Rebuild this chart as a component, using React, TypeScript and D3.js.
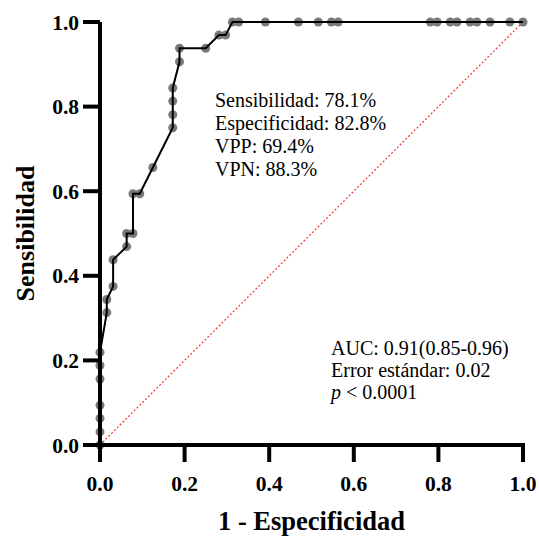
import * as d3 from 'd3';
import React from 'react';

// ROC curve points (1 - especificidad, sensibilidad)
const fpr = [
  0, 0, 0, 0, 0, 0, 0, 0.016, 0.016, 0.031, 0.031, 0.063, 0.063, 0.078, 0.078,
  0.094, 0.125, 0.172, 0.172, 0.172, 0.172, 0.188, 0.188, 0.25, 0.281, 0.297,
  0.313, 0.328, 0.391, 0.469, 0.516, 0.547, 0.563, 0.781, 0.797, 0.828, 0.844,
  0.875, 0.891, 0.922, 0.969, 1.0,
];
const tpr = [
  0, 0.031, 0.063, 0.094, 0.156, 0.188, 0.219, 0.313, 0.344, 0.375, 0.438,
  0.469, 0.5, 0.5, 0.594, 0.594, 0.656, 0.75, 0.781, 0.813, 0.844, 0.906,
  0.938, 0.938, 0.969, 0.969, 1, 1, 1, 1, 1, 1, 1, 1, 1, 1, 1, 1, 1, 1, 1, 1,
];
const ticks = [0, 0.2, 0.4, 0.6, 0.8, 1.0];
const statsTop = ['Sensibilidad: 78.1%', 'Especificidad: 82.8%', 'VPP: 69.4%', 'VPN: 88.3%'];
const statsBottom = ['AUC: 0.91(0.85-0.96)', 'Error estándar: 0.02'];

const W = 539;
const H = 537;
const margin = { top: 22, right: 16, bottom: 92, left: 100 };
const font = "'Times New Roman', 'Liberation Serif', serif";

export default function App() {
  const x = d3.scaleLinear().domain([0, 1]).range([margin.left, W - margin.right]);
  const y = d3.scaleLinear().domain([0, 1]).range([H - margin.bottom, margin.top]);
  const pts = fpr.map((v, i) => [v, tpr[i]] as [number, number]);
  const line = d3
    .line<[number, number]>()
    .x(d => x(d[0]))
    .y(d => y(d[1]));

  const tickLen = 17;
  const x0 = x(0);
  const y0 = y(0);

  return (
    <svg width={W} height={H} style={{ position: 'absolute', left: 0, top: 0 }} fontFamily={font}>
      <rect width={W} height={H} fill="#fff" />
      {/* reference diagonal */}
      <line x1={x(0)} y1={y(0)} x2={x(1)} y2={y(1)} stroke="#ff3030" strokeWidth={1.2} strokeDasharray="2,2" />
      {/* points */}
      {pts.map((d, i) => (
        <circle key={i} cx={x(d[0])} cy={y(d[1])} r={4.5} fill="#7a7a7a" />
      ))}
      <path d={line(pts) || ''} fill="none" stroke="#000" strokeWidth={2} />

      {/* axes */}
      <line x1={x0} y1={y(1)} x2={x0} y2={y0 + tickLen} stroke="#000" strokeWidth={4} />
      <line x1={x0 - tickLen} y1={y0} x2={x(1) + 2} y2={y0} stroke="#000" strokeWidth={4} />
      {ticks.map(t => (
        <g key={'x' + t}>
          <line x1={x(t)} x2={x(t)} y1={y0} y2={y0 + tickLen} stroke="#000" strokeWidth={4} />
          <text x={x(t)} y={y0 + 46} textAnchor="middle" fontSize={21.5} fontWeight="bold">
            {d3.format('.1f')(t)}
          </text>
        </g>
      ))}
      {ticks.map(t => (
        <g key={'y' + t}>
          <line x1={x0 - tickLen} x2={x0} y1={y(t)} y2={y(t)} stroke="#000" strokeWidth={4} />
          <text x={x0 - 21} y={y(t)} dy="0.35em" textAnchor="end" fontSize={21.5} fontWeight="bold">
            {d3.format('.1f')(t)}
          </text>
        </g>
      ))}
      <text x={(x(0) + x(1)) / 2} y={530} textAnchor="middle" fontSize={26.5} fontWeight="bold">
        1 - Especificidad
      </text>
      <text
        transform={`translate(34,${(y(0) + y(1)) / 2}) rotate(-90)`}
        textAnchor="middle"
        fontSize={26}
        fontWeight="bold"
      >
        Sensibilidad
      </text>

      {/* annotations */}
      {statsTop.map((s, i) => (
        <text key={s} x={215} y={107 + i * 23} fontSize={20}>
          {s}
        </text>
      ))}
      {statsBottom.map((s, i) => (
        <text key={s} x={331} y={355 + i * 22} fontSize={20}>
          {s}
        </text>
      ))}
      <text x={331} y={399} fontSize={20}>
        <tspan fontStyle="italic">p</tspan>
        <tspan> &lt; 0.0001</tspan>
      </text>
    </svg>
  );
}
